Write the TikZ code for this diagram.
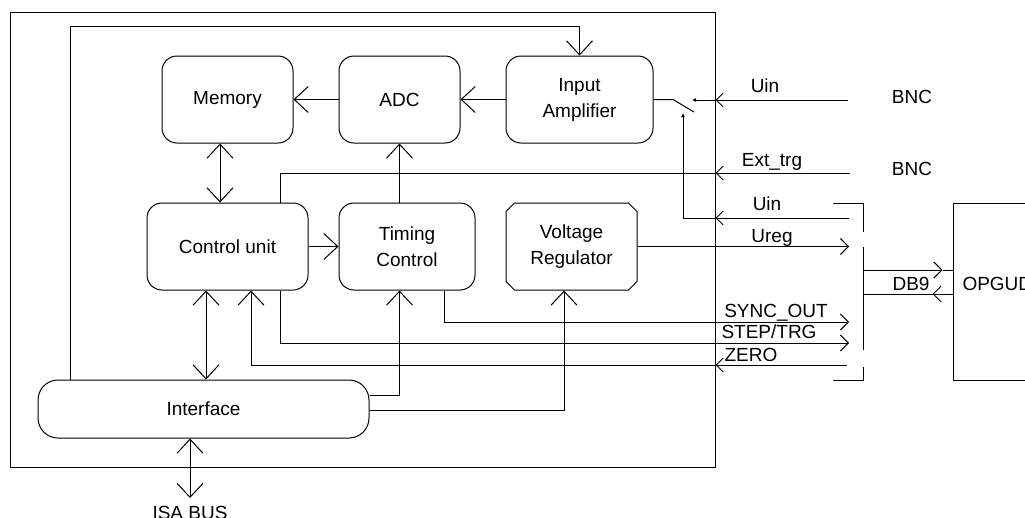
\documentclass[tikz,border=0pt]{standalone}
\usepackage{fontspec}
\setmainfont{Liberation Sans}
\usetikzlibrary{arrows.meta,shapes.misc}

\begin{document}
\begin{tikzpicture}[
  x=1pt,y=-1pt,
  line width=1pt,
  every node/.style={font=\fontsize{19}{26}\selectfont,inner sep=0pt},
  blk/.style={draw,rectangle,rounded corners=15pt,align=center,minimum height=87pt},
  chamf/.style={draw,chamfered rectangle,chamfered rectangle xsep=5pt,align=center,minimum height=87pt},
  lbl/.style={anchor=base},
  big/.style={-{Straight Barb[length=14pt,width=26pt]}},
  bigboth/.style={{Straight Barb[length=14pt,width=26pt]}-{Straight Barb[length=14pt,width=26pt]}},
  med/.style={-{Straight Barb[length=8pt,width=16pt]}},
  sml/.style={-{Straight Barb[length=7pt,width=14pt]}},
  tiny/.style={-{Latex[length=4pt,width=4pt]}}]
  \useasboundingbox (0,0) rectangle (1025,517);
  \clip (0,0) rectangle (1025,517);
  % board
  \node[draw,minimum width=705pt,minimum height=455pt](frame) at(362.5,239.5){};
  \node[blk,minimum width=131pt](mem) at(227.5,99.5){Memory};
  \node[blk,minimum width=121pt](adc) at(399.5,99.5){ADC};
  \node[blk,minimum width=147pt](amp) at(579.5,99.5){Input\\Amplifier};
  \node[blk,minimum width=161pt](ctrl) at(227.5,246.5){Control unit};
  \node[blk,minimum width=136pt](tim) at(407,246.5){Timing\\Control};
  \node[chamf,minimum width=131pt](vreg) at(571.5,246.5){Voltage\\Regulator};
  \node[draw,rounded corners=20pt,minimum width=331pt,minimum height=58pt](intf) at(203.5,409){Interface};
  \node[draw,minimum width=120pt,minimum height=177pt](opgud) at(1013,291.5){};
  % free ends
  \coordinate(lp) at(70,26);
  \coordinate(isa) at(190,498);
  \coordinate(sw1) at(673,99.5);
  \coordinate(sw2) at(694,112);
  \coordinate(swin) at(692,100);
  \coordinate(swctl) at(683,113);
  \coordinate(uinA) at(848,100);
  \coordinate(trg) at(850,173);
  \coordinate(uinB) at(849,218);
  \coordinate(ureg) at(849,247);
  \coordinate(sync) at(849,322);
  \coordinate(step) at(849,343);
  \coordinate(zero) at(847,365);
  \coordinate(dbA) at(863,270);
  \coordinate(dbB) at(863,294);
  % inside
  \draw[big](adc)--(mem);
  \draw[big](amp)--(adc);
  \draw[bigboth]([xshift=-7.5pt]mem.south)--([xshift=-7.5pt]ctrl.north);
  \draw[big](ctrl)--(tim);
  \draw[big](adc.south |- tim.north)--(adc.south);
  \draw[bigboth]([xshift=-21.5pt]ctrl.south)--([xshift=-21.5pt]ctrl.south |- intf.north);
  \draw[bigboth](intf.south -| isa)--(isa);
  \draw[big](intf.north -| lp)--(lp)-|(amp.north);
  \draw[big]([yshift=14pt]intf.east)-|(adc.south |- tim.south);
  \draw[big]([yshift=-1pt]intf.east)-|([xshift=-7.5pt]vreg.south);
  % signals
  \draw[sml](uinA)--(uinA -| frame.east);
  \draw[tiny](uinA -| frame.east)--(swin);
  \draw(amp.east)--(sw1)--(sw2);
  \draw[sml](trg)--(trg -| frame.east);
  \draw(trg -| frame.east)-|([xshift=52.5pt]ctrl.north);
  \draw[sml](uinB)--(uinB -| frame.east);
  \draw[tiny](uinB -| frame.east)-|(swctl);
  \draw[med](vreg.east)--(vreg.east -| ureg);
  \draw[med]([xshift=37pt]tim.south)|-(sync);
  \draw[med]([xshift=52.5pt]ctrl.south)|-(step);
  \draw[sml](zero)--(zero -| frame.east);
  \draw[big](zero -| frame.east)-|([xshift=23.5pt]ctrl.south);
  % connector
  \draw(833,203)--(863,203)--(863,232);
  \draw(863,247)--(863,350);
  \draw(863,367)--(863,380)--(833,380);
  \draw[med](dbA)--([xshift=-10pt]dbA -| opgud.west);
  \draw([xshift=-10pt]dbA -| opgud.west)--(dbA -| opgud.west);
  \draw[med](dbB -| opgud.west)--([xshift=-20pt]dbB -| opgud.west);
  \draw([xshift=-20pt]dbB -| opgud.west)--(dbB);
  % labels
  \node[lbl](isatxt) at(190,519){ISA BUS};
  \node[lbl](uinAtxt) at(765,92){Uin};
  \node[lbl](bncA) at(912,103){BNC};
  \node[lbl](trgtxt) at(772,166){Ext\_trg};
  \node[lbl](bncB) at(912,175){BNC};
  \node[lbl](uinBtxt) at(767,210){Uin};
  \node[lbl](uregtxt) at(772,242){Ureg};
  \node[lbl](synctxt) at(776,317){SYNC\_OUT};
  \node[lbl](steptxt) at(769,338){STEP/TRG};
  \node[lbl](zerotxt) at(751,361){ZERO};
  \node[lbl](dbtxt) at(911,290){DB9};
  \node[lbl,anchor=base west](opgudtxt) at(962,290){OPGUD};
\end{tikzpicture}
\end{document}
